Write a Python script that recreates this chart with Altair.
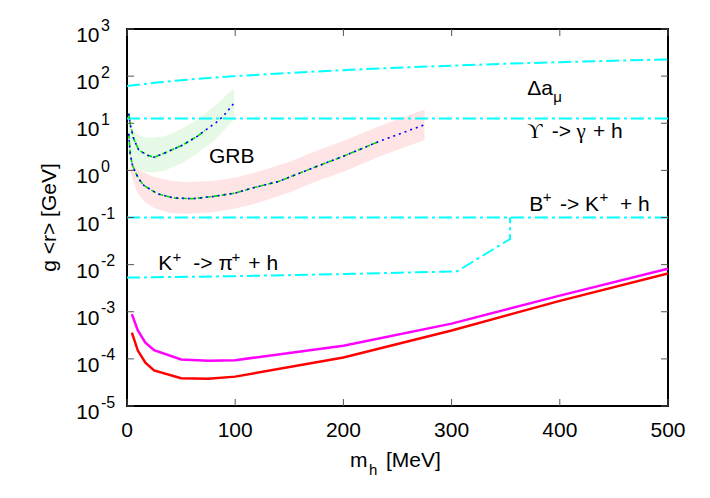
import altair as alt
import pandas as pd

# ---------------- data ----------------
amu_m = [0, 25, 50, 75, 100, 150, 200, 250, 300, 350, 400, 450, 500]
amu_g = [62, 72, 82, 91, 100, 117, 134, 151, 167, 183, 198, 212, 226]

ups_m = [0, 500]
ups_g = [12.6, 12.6]

bk_m = [0, 500]
bk_g = [0.1, 0.1]

kpi_m = [0, 100, 200, 305, 354, 354]
kpi_g = [0.0053, 0.0057, 0.0063, 0.0072, 0.035, 0.1]

bound_m = [4.5, 10, 17, 25, 50, 75, 100, 200, 300, 400, 500]
mag_g = [8.9e-4, 4.0e-4, 2.2e-4, 1.53e-4, 9.7e-5, 9.1e-5, 9.4e-5, 1.9e-4, 5.6e-4, 2.2e-3, 8.2e-3]
red_g = [3.6e-4, 1.5e-4, 8.3e-5, 5.7e-5, 3.9e-5, 3.8e-5, 4.2e-5, 1.07e-4, 4.0e-4, 1.7e-3, 6.5e-3]

grb1_m = [1.6, 3.1, 6.2, 10.8, 18.8, 25, 37, 51, 65, 72, 85, 92, 99]
grb1_g = [16, 9.1, 4.7, 2.7, 2.1, 1.9, 2.45, 3.4, 5.3, 7, 11.5, 17, 27]
grb1_dash_end = 72

grb2_m = [1.6, 3, 5, 7.7, 11, 15.6, 28, 43, 60, 80, 100, 117, 140, 166, 200, 234, 275]
grb2_g = [6, 2.2, 1.3, 0.92, 0.65, 0.48, 0.32, 0.26, 0.25, 0.28, 0.33, 0.43, 0.58, 1.0, 2.0, 4.2, 9.3]
grb2_dash_end = 234

gband_m = [2, 5, 10, 17, 25, 35, 50, 65, 80, 99]
gband_lo = [2.1, 1.4, 1.05, 0.92, 0.91, 1.0, 1.4, 2.3, 4.2, 12]
gband_hi = [10, 7.5, 5.8, 5.0, 4.9, 5.3, 7.5, 12, 22, 55]

pband_m = [3, 6, 10, 16, 25, 40, 55, 80, 100, 120, 150, 175, 200, 234, 275]
pband_lo = [1.0, 0.55, 0.32, 0.22, 0.16, 0.125, 0.12, 0.13, 0.155, 0.2, 0.34, 0.59, 0.94, 2.0, 4.4]
pband_hi = [2.5, 1.4, 1.05, 0.9, 0.72, 0.6, 0.56, 0.6, 0.7, 0.92, 1.5, 2.6, 4.2, 8.8, 19.6]

xtick_vals = [0, 100, 200, 300, 400, 500]
xtick_labels = ["0", "100", "200", "300", "400", "500"]
ytick_vals = [1e-5, 1e-4, 1e-3, 1e-2, 1e-1, 1e0, 1e1, 1e2, 1e3]
ytick_exps = ["-5", "-4", "-3", "-2", "-1", "0", "1", "2", "3"]

# ---------------- layout ----------------
W, H = 541, 377
FONT = "Liberation Sans"
SERIF = "Liberation Serif"
FS = 21
CYAN = "#00ffff"
DASHDOT = [13, 4, 3, 4]

xs = alt.Scale(domain=[0, 500], nice=False, zero=False)
ys = alt.Scale(type="log", domain=[1e-5, 1e3], nice=False)


def df_line(m, g):
    return pd.DataFrame({"m": m, "g": g, "i": list(range(len(m)))})


def line(m, g, color, width, dash=None):
    kw = dict(color=color, strokeWidth=width, clip=True)
    if dash:
        kw["strokeDash"] = dash
    return alt.Chart(df_line(m, g)).mark_line(**kw).encode(
        x=alt.X("m:Q", scale=xs, axis=None),
        y=alt.Y("g:Q", scale=ys, axis=None),
        order="i:Q",
    )


def band(m, lo, hi, color):
    d = pd.DataFrame({"m": m, "lo": lo, "hi": hi})
    return alt.Chart(d).mark_area(color=color, opacity=1).encode(
        x=alt.X("m:Q", scale=xs, axis=None),
        y=alt.Y("lo:Q", scale=ys, axis=None),
        y2="hi:Q",
    )


def txt(s, x, y, size=FS, align="left", font=FONT, angle=0):
    kw = dict(text=s, font=font, fontSize=size, align=align,
              baseline="alphabetic", color="black")
    if angle:
        kw["angle"] = angle
    return alt.Chart(alt.Data(values=[{}])).mark_text(**kw).encode(
        x=alt.value(x), y=alt.value(y))


layers = []
# bands
layers.append(band(gband_m, gband_lo, gband_hi, "#e6f9e6"))
layers.append(band(pband_m, pband_lo, pband_hi, "#fee4e4"))

# cyan constraint lines
layers.append(line(amu_m, amu_g, CYAN, 2, DASHDOT))
layers.append(line(ups_m, ups_g, CYAN, 2, DASHDOT))
layers.append(line(bk_m, bk_g, CYAN, 2, DASHDOT))
layers.append(line(kpi_m, kpi_g, CYAN, 2, DASHDOT))

# GRB curves
g1m = [m for m in grb1_m if m <= grb1_dash_end]
g1g = grb1_g[:len(g1m)]
g2m = [m for m in grb2_m if m <= grb2_dash_end]
g2g = grb2_g[:len(g2m)]
layers.append(line(g1m, g1g, "#00dd00", 1.6, [5, 3]))
layers.append(line(g2m, g2g, "#00dd00", 1.6, [5, 3]))
layers.append(line(grb1_m, grb1_g, "#0000ff", 1.6, [2, 4]))
layers.append(line(grb2_m, grb2_g, "#0000ff", 1.6, [2, 4]))

# bounds
layers.append(line(bound_m, mag_g, "#ff00ff", 2.5))
layers.append(line(bound_m, red_g, "#ff0000", 2.5))

# ticks (inside, mirrored)
xt = pd.DataFrame({"m": xtick_vals, "lab": xtick_labels})
yt = pd.DataFrame({"g": ytick_vals, "e": ytick_exps})
TC = "#555555"
for y1, y2 in [(H, H - 7), (0, 7)]:
    layers.append(alt.Chart(xt).mark_rule(color=TC, strokeWidth=1).encode(
        x=alt.X("m:Q", scale=xs, axis=None), y=alt.value(y1), y2=alt.value(y2)))
for x1, x2 in [(0, 7), (W - 7, W)]:
    layers.append(alt.Chart(yt).mark_rule(color=TC, strokeWidth=1).encode(
        y=alt.Y("g:Q", scale=ys, axis=None), x=alt.value(x1), x2=alt.value(x2)))

# tick labels
layers.append(alt.Chart(xt).mark_text(font=FONT, fontSize=FS, align="center",
                                       baseline="alphabetic", color="black").encode(
    x=alt.X("m:Q", scale=xs, axis=None), y=alt.value(H + 31.3), text="lab:N"))
layers.append(alt.Chart(yt).mark_text(font=FONT, fontSize=FS, align="right",
                                       baseline="alphabetic", dy=13, color="black",
                                       text="10").encode(
    y=alt.Y("g:Q", scale=ys, axis=None), x=alt.value(-27.5)))
layers.append(alt.Chart(yt).mark_text(font=FONT, fontSize=16, align="left",
                                       baseline="alphabetic", dy=1.5, color="black").encode(
    y=alt.Y("g:Q", scale=ys, axis=None), x=alt.value(-26), text="e:N"))

# axis titles
layers.append(txt("g <r> [GeV]", -71, H / 2, angle=270, align="center"))
layers.append(txt("m", 223, 437.7))
layers.append(txt("h", 242, 446, size=15))
layers.append(txt("[MeV]", 259, 437.7))

# annotations
layers.append(txt("GRB", 82, 134.3))
layers.append(txt("\u0394a", 400.3, 66))
layers.append(txt("\u03bc", 426.3, 72.7, size=15))
layers.append(txt("\u03d2", 400.3, 109.3, font=SERIF))
layers.append(txt("->", 424.7, 109.3))
layers.append(txt("\u03b3", 449.5, 109.3, font=SERIF))
layers.append(txt("+ h", 466, 109.3))
layers.append(txt("B", 402.3, 181.7))
layers.append(txt("+", 415.7, 173.2, size=15))
layers.append(txt("-> K", 433, 181.7))
layers.append(txt("+", 472.5, 173.2, size=15))
layers.append(txt("+ h", 493, 181.7))
layers.append(txt("K", 31.3, 241))
layers.append(txt("+", 45.5, 232.5, size=15))
layers.append(txt("-> \u03c0", 66.3, 241))
layers.append(txt("+", 104.5, 232.5, size=15))
layers.append(txt("+ h", 121.3, 241))

chart = alt.layer(*layers).properties(
    width=W, height=H,
    padding={"left": 119, "top": 21, "right": 30, "bottom": 78},
    autosize=alt.AutoSizeParams(type="none"),
).configure_view(stroke="black", strokeWidth=2)

chart.save("out.html", embed_options={"renderer": "svg", "actions": False})
